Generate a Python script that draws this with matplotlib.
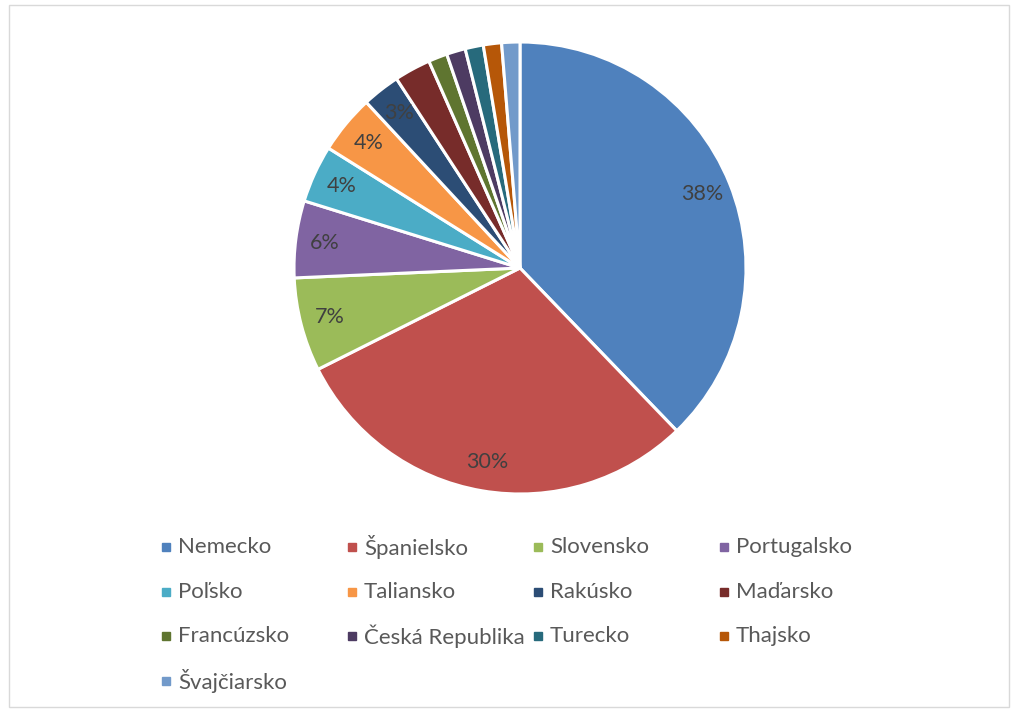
import matplotlib.pyplot as plt
from matplotlib.patches import Rectangle

countries = ['Nemecko', 'Španielsko', 'Slovensko', 'Portugalsko', 'Poľsko', 'Taliansko',
             'Rakúsko', 'Maďarsko', 'Francúzsko', 'Česká Republika', 'Turecko', 'Thajsko',
             'Švajčiarsko']
shares = [37.8, 29.8, 6.7, 5.5, 4.1, 4.2, 2.7, 2.6, 1.35, 1.35, 1.3, 1.3, 1.3]
colors = ['#4F81BD', '#C0504D', '#9BBB59', '#8064A2', '#4BACC6', '#F79646',
          '#2C4D75', '#772C2A', '#5F7530', '#4D3B62', '#276A7C', '#B65708', '#729ACA']

plt.rcParams['font.family'] = ['Lato', 'DejaVu Sans']

W, H = 1019, 709
fig = plt.figure(figsize=(W / 100, H / 100), dpi=100)
fig.patches.append(Rectangle((9 / W, 2 / H), 1000 / W, 702 / H, transform=fig.transFigure,
                             fill=False, edgecolor='#D9D9D9', linewidth=1))

cx, cy, r = 520, 268, 226
ax = fig.add_axes([(cx - r) / W, (H - cy - r) / H, 2 * r / W, 2 * r / H])


def pct_label(p):
    # small slices stay unlabelled, as in the original
    return '%.0f%%' % p if p > 2.65 else ''


wedges, texts, autotexts = ax.pie(shares, colors=colors, startangle=90, counterclock=False,
                                  autopct=pct_label, pctdistance=0.87,
                                  wedgeprops=dict(edgecolor='white', linewidth=2.2),
                                  textprops=dict(color='#404040', fontsize=15.5))
ax.set_xlim(-1, 1)
ax.set_ylim(-1, 1)

# legend, 4 columns like the original
for i, name in enumerate(countries):
    col, row = i % 4, i // 4
    x = 162 + col * 186
    y = 547 + row * 44.7
    fig.patches.append(Rectangle((x / W, (H - y - 4) / H), 8 / W, 8 / H,
                                 transform=fig.transFigure, color=colors[i]))
    fig.text((x + 16) / W, (H - y) / H, name, fontsize=16, color='#595959', va='center')

fig.savefig('out.png', dpi=100)
